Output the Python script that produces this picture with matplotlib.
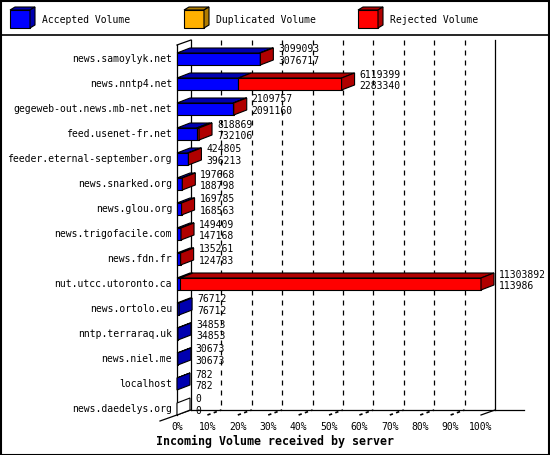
import numpy as np
import matplotlib.pyplot as plt
from matplotlib.patches import Polygon

# ==========================
# DATA
# ==========================
servers = [
    "news.samoylyk.net", "news.nntp4.net", "gegeweb-out.news.mb-net.net",
    "feed.usenet-fr.net", "feeder.eternal-september.org", "news.snarked.org",
    "news.glou.org", "news.trigofacile.com", "news.fdn.fr",
    "nut.utcc.utoronto.ca", "news.ortolo.eu", "nntp.terraraq.uk",
    "news.niel.me", "localhost", "news.daedelys.org",
]
total_volume = [3099093, 6119399, 2109757, 818869, 424805, 197668, 169785,
                149409, 135261, 11303892, 76712, 34853, 30673, 782, 0]
accepted_volume = [3076717, 2283340, 2091160, 732106, 396213, 188798, 168563,
                   147168, 124783, 113986, 76712, 34853, 30673, 782, 0]
legend_labels = ["Accepted Volume", "Duplicated Volume", "Rejected Volume"]
tick_labels = ["%d%%" % p for p in range(0, 101, 10)]
xlabel = "Incoming Volume received by server"

# ==========================
# STYLE / GEOMETRY (pixels)
# ==========================
W, H = 550, 455
X0_PX, PX_PER_PCT = 177, 3.04
ROW0_PX, ROW_PX = 59, 25
DX = 13 / PX_PER_PCT          # bar depth
WX = 14 / PX_PER_PCT          # wall depth
DY = -5 / ROW_PX
HALF = 6 / ROW_PX
FRONT_FLOOR = 14 + HALF
BACK_FLOOR = FRONT_FLOOR + DY
WALL_TOP = (40 - ROW0_PX) / ROW_PX

FACE = {"acc": ("#0000ff", "#0000b0"), "dup": ("#ffb000", "#b07c00"),
        "rej": ("#ff0000", "#b00000")}
MONO = "DejaVu Sans Mono"


def cube(ax, x0, x1, yc, front, dark, dx, dy, half, z=3):
    top, bot = yc - half, yc + half
    ax.add_patch(Polygon([(x0, top), (x1, top), (x1, bot), (x0, bot)],
                         fc=front, ec="k", lw=0.8, zorder=z))
    ax.add_patch(Polygon([(x0, top), (x1, top), (x1 + dx, top + dy), (x0 + dx, top + dy)],
                         fc=dark, ec="k", lw=0.8, zorder=z))


def side(ax, x, yc, color, dx, dy, half, z=3):
    top, bot = yc - half, yc + half
    ax.add_patch(Polygon([(x, top), (x + dx, top + dy), (x + dx, bot + dy), (x, bot)],
                         fc=color, ec="k", lw=0.8, zorder=z))


fig = plt.figure(figsize=(W / 100, H / 100), dpi=100)
fig.patch.set_facecolor("white")

# main chart axes: x in percent, y in rows
ax = fig.add_axes([0, 0, 1, 1])
ax.set_xlim(-X0_PX / PX_PER_PCT, (W - X0_PX) / PX_PER_PCT)
ax.set_ylim((H - ROW0_PX) / ROW_PX, -ROW0_PX / ROW_PX)
ax.axis("off")

# back wall, grid, floor
for p in range(10, 100, 10):
    ax.plot([p + WX, p + WX], [WALL_TOP, BACK_FLOOR], color="k", lw=0.9,
            ls=(0, (4, 4)), zorder=1)
    ax.plot([p, p + WX], [FRONT_FLOOR, BACK_FLOOR], color="k", lw=1.2,
            ls=(0, (2, 2)), zorder=1)
ax.plot([WX, WX], [WALL_TOP, BACK_FLOOR], color="k", lw=0.9, zorder=1)
ax.plot([100 + WX, 100 + WX], [WALL_TOP, BACK_FLOOR], color="k", lw=0.9, zorder=1)
ax.plot([WX, 114], [BACK_FLOOR, BACK_FLOOR], color="k", lw=0.9, zorder=1)
ax.plot([-5.6, WX], [FRONT_FLOOR + 0.24, BACK_FLOOR], color="k", lw=0.9, zorder=1)
ax.plot([100, 100 + WX], [FRONT_FLOOR, BACK_FLOOR], color="k", lw=0.9, zorder=1)
ax.plot([0, 0], [WALL_TOP - DY, FRONT_FLOOR], color="k", lw=0.9, zorder=2)
ax.plot([0, WX], [WALL_TOP - DY, WALL_TOP], color="k", lw=0.9, zorder=2)

vmax = max(total_volume)
for i, (name, tot, acc) in enumerate(zip(servers, total_volume, accepted_volume)):
    acc_pct = acc / vmax * 100
    tot_pct = tot / vmax * 100
    last = FACE["acc"][1] if tot > 0 else "white"
    if acc_pct > 0:
        cube(ax, 0, acc_pct, i, *FACE["acc"], DX, DY, HALF)
    if tot_pct > acc_pct:
        cube(ax, acc_pct, tot_pct, i, *FACE["rej"], DX, DY, HALF)
        last = FACE["rej"][1]
    side(ax, tot_pct, i, last, DX, DY, HALF)

    ax.text(-1.64, i, name, ha="right", va="center", fontsize=7, family=MONO)
    tx = tot_pct + 18 / PX_PER_PCT
    ax.text(tx, i - 0.38, str(tot), ha="left", va="center", fontsize=7,
            family=MONO, zorder=5)
    ax.text(tx, i + 0.08, str(acc), ha="left", va="center", fontsize=7,
            family=MONO, zorder=5)

for p, lab in zip(range(0, 101, 10), tick_labels):
    ax.text(p, FRONT_FLOOR + 0.48, lab, ha="center", va="center", fontsize=7,
            family=MONO)

fig.text(0.5, 1 - 441 / H, xlabel, ha="center", va="center", fontsize=8.4,
         family=MONO, weight="bold")

# legend strip (pixel coordinates)
lax = fig.add_axes([0, 1 - 35 / H, 1, 35 / H])
lax.set_xlim(0, W)
lax.set_ylim(35, 0)
lax.axis("off")
for (key, lab), lx in zip(zip(["acc", "dup", "rej"], legend_labels), [10, 184, 358]):
    cube(lax, lx, lx + 20, 19, *FACE[key], 5, -3, 9)
    side(lax, lx + 20, 19, FACE[key][1], 5, -3, 9)
    lax.text(lx + 32, 20, lab, ha="left", va="center", fontsize=7, family=MONO)

# frame and separator
fig.add_artist(plt.Line2D([0, 1], [1 - 35 / H, 1 - 35 / H], color="k", lw=1.2))
fig.add_artist(plt.Rectangle((0.001, 0.001), 0.997, 0.997, fill=False,
                             ec="k", lw=1.5, transform=fig.transFigure))

fig.savefig("out.png", dpi=100)
